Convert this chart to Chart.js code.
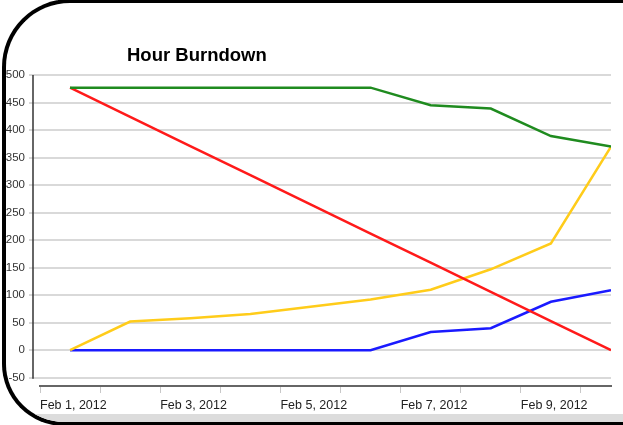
<!DOCTYPE html>
<html>
<head>
<meta charset="utf-8">
<title>Hour Burndown</title>
<script src="https://cdn.jsdelivr.net/npm/chart.js@4/dist/chart.umd.min.js"></script>
<style>
    html, body { margin: 0; padding: 0; background: #fff; overflow: hidden; }
    .frame {
        position: absolute;
        left: 2px;
        top: -1px;
        width: 660px;
        height: 427px;
        box-sizing: border-box;
        border: 4px solid #000;
        border-right: none;
        border-radius: 68px 0 0 62px;
        overflow: hidden;
        background: #fff;
    }
    .frame .band {
        position: absolute;
        left: 0;
        right: 0;
        bottom: 0;
        height: 8px;
        background: #dcdcdc;
    }
    #burndownChart { position: absolute; left: 0; top: 0; }
</style>
</head>
<body>
<div class="frame"><div class="band"></div></div>
<canvas id="burndownChart" width="623" height="425"></canvas>
<script>
// Days since Feb 1, 2012 00:00 at which each sample was taken (noon)
const sampleDays = [0.5, 1.5, 2.5, 3.5, 4.5, 5.5, 6.5, 7.5, 8.5, 9.5];

// Hours per series
const totalHours = [477, 477, 477, 477, 477, 477, 445, 439, 389, 370];
const idealHours = [477, 424, 371, 318, 265, 212, 159, 106, 53, 0];
const doneHours = [0, 52, 58, 66, 79, 92, 110, 147, 194, 370];
const closedHours = [0, 0, 0, 0, 0, 0, 33, 40, 88, 109];

// Axis ticks
const dayTicks = [0, 1, 2, 3, 4, 5, 6, 7, 8, 9];
const dayLabels = ['Feb 1, 2012', '', 'Feb 3, 2012', '', 'Feb 5, 2012', '', 'Feb 7, 2012', '', 'Feb 9, 2012', ''];
const hourTicks = [-50, 0, 50, 100, 150, 200, 250, 300, 350, 400, 450, 500];

const chartTitle = 'Hour Burndown';
const FONT = "'Liberation Sans', Arial, sans-serif";

function toPoints(values) {
    return values.map((v, i) => ({ x: sampleDays[i], y: v }));
}

function series(values, color) {
    return {
        data: toPoints(values),
        borderColor: color,
        backgroundColor: color,
        borderWidth: 2.5,
        pointRadius: 0,
        tension: 0,
        fill: false
    };
}

// Title and the short y axis line (stops at the lowest tick)
const decorations = {
    id: 'decorations',
    afterDraw(chart) {
        const ctx = chart.ctx;
        const y = chart.scales.y;
        ctx.save();
        ctx.strokeStyle = '#333';
        ctx.lineWidth = 1.5;
        ctx.beginPath();
        ctx.moveTo(33, y.getPixelForValue(500));
        ctx.lineTo(33, y.getPixelForValue(-50) + 1);
        ctx.stroke();

        ctx.fillStyle = '#000';
        ctx.font = 'bold 18.5px ' + FONT;
        ctx.textBaseline = 'alphabetic';
        ctx.textAlign = 'left';
        ctx.fillText(chartTitle, 127, 61);
        ctx.restore();
    }
};

const ctx = document.getElementById('burndownChart').getContext('2d');
new Chart(ctx, {
    type: 'line',
    data: {
        datasets: [
            series(totalHours, '#1f8b1f'),
            series(idealHours, '#ff1a1a'),
            series(doneHours, '#ffcc1a'),
            series(closedHours, '#1a1aff')
        ]
    },
    options: {
        responsive: false,
        animation: false,
        layout: {
            padding: { top: 75, right: 12, left: 0, bottom: 0 }
        },
        scales: {
            x: {
                type: 'linear',
                min: 0,
                max: 9.5,
                afterBuildTicks: s => { s.ticks = dayTicks.map(v => ({ value: v })); },
                afterFit: s => { s.height = 39; },
                border: { display: true, color: '#666', width: 2 },
                grid: {
                    drawOnChartArea: false,
                    drawTicks: true,
                    tickLength: 7,
                    tickColor: '#c8c8c8',
                    tickWidth: 1
                },
                ticks: {
                    autoSkip: false,
                    maxRotation: 0,
                    align: 'start',
                    padding: 5,
                    color: '#222',
                    font: { family: FONT, size: 12.5 },
                    callback: v => dayLabels[v] || ''
                }
            },
            y: {
                min: -65,
                max: 500,
                afterBuildTicks: s => { s.ticks = hourTicks.map(v => ({ value: v })); },
                afterFit: s => { s.width = 40; },
                border: { display: false },
                grid: {
                    color: '#d9d9d9',
                    lineWidth: 2,
                    drawTicks: true,
                    tickLength: 11,
                    tickColor: '#b0b0b0',
                    tickWidth: 1
                },
                ticks: {
                    padding: 4,
                    color: '#333',
                    font: { family: FONT, size: 11.5 }
                }
            }
        },
        plugins: {
            legend: { display: false },
            title: { display: false },
            tooltip: { enabled: false }
        }
    },
    plugins: [decorations]
});
</script>
</body>
</html>
